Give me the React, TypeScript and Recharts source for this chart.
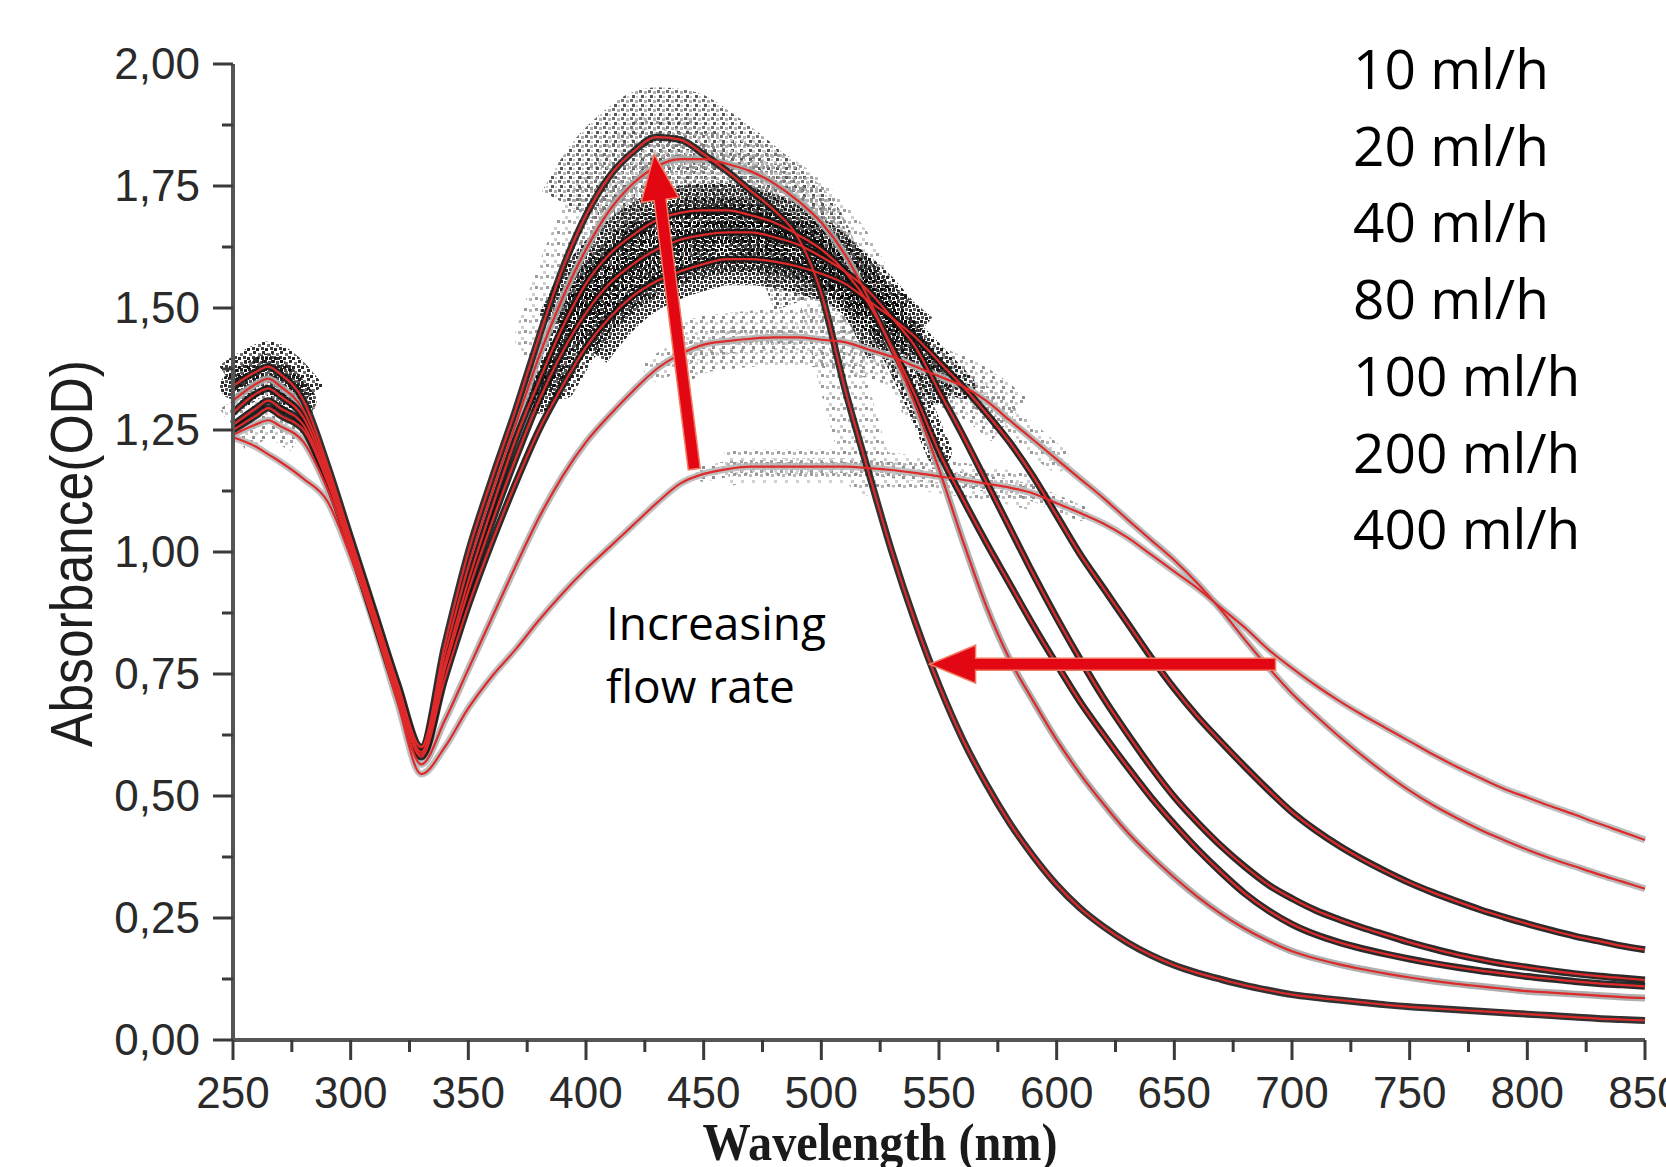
import React from 'react';
import { LineChart, Line, XAxis, YAxis, ReferenceLine } from 'recharts';

// Wavelength (nm) sample grid
const wavelengths = [
  250, 260, 265, 270, 280, 290, 300, 310, 320, 330, 340,
  350, 360, 370, 380, 390, 400, 410, 420, 430, 440,
  450, 460, 470, 480, 490, 500, 510, 520, 530, 540,
  550, 560, 570, 580, 590, 600, 610, 620, 630, 640,
  650, 660, 670, 680, 690, 700, 710, 720, 730, 740,
  750, 760, 770, 780, 790, 800, 810, 820, 830, 840,
  850,
];

// Absorbance (OD) for each flow rate
const abs10 = [
  1.235, 1.215, 1.20, 1.185, 1.15, 1.105, 0.99, 0.85, 0.69, 0.545, 0.60,
  0.68, 0.745, 0.80, 0.86, 0.915, 0.965, 1.01, 1.055, 1.10, 1.14,
  1.16, 1.17, 1.175, 1.175, 1.175, 1.175, 1.175, 1.172, 1.168, 1.162,
  1.155, 1.148, 1.14, 1.132, 1.12, 1.10, 1.08, 1.058, 1.03, 0.995,
  0.96, 0.925, 0.885, 0.845, 0.80, 0.762, 0.727, 0.695, 0.666, 0.639,
  0.612, 0.585, 0.56, 0.537, 0.515, 0.497, 0.479, 0.462, 0.444, 0.427,
  0.41,
];
const abs20 = [
  1.24, 1.262, 1.27, 1.258, 1.225, 1.13, 1.0, 0.855, 0.70, 0.565, 0.655,
  0.76, 0.865, 0.97, 1.07, 1.155, 1.225, 1.28, 1.33, 1.375, 1.405,
  1.425, 1.432, 1.437, 1.44, 1.44, 1.435, 1.43, 1.415, 1.40, 1.38,
  1.36, 1.34, 1.31, 1.27, 1.23, 1.19, 1.15, 1.11, 1.067, 1.025,
  0.983, 0.935, 0.88, 0.82, 0.763, 0.71, 0.665, 0.622, 0.582, 0.545,
  0.511, 0.481, 0.455, 0.431, 0.41, 0.39, 0.372, 0.356, 0.34, 0.325,
  0.31,
];
const abs40 = [
  1.25, 1.28, 1.295, 1.28, 1.25, 1.145, 1.01, 0.86, 0.71, 0.58, 0.74,
  0.89, 1.02, 1.14, 1.25, 1.34, 1.42, 1.48, 1.525, 1.555, 1.575,
  1.59, 1.60, 1.60, 1.595, 1.585, 1.57, 1.55, 1.515, 1.48, 1.44,
  1.39, 1.34, 1.285, 1.225, 1.155, 1.075, 0.995, 0.925, 0.855, 0.785,
  0.72, 0.662, 0.61, 0.56, 0.512, 0.467, 0.43, 0.398, 0.37, 0.345,
  0.322, 0.302, 0.284, 0.267, 0.252, 0.238, 0.225, 0.213, 0.203, 0.193,
  0.185,
];
const abs80 = [
  1.26, 1.295, 1.31, 1.295, 1.26, 1.15, 1.01, 0.865, 0.715, 0.585, 0.76,
  0.92, 1.06, 1.19, 1.31, 1.41, 1.49, 1.55, 1.59, 1.62, 1.64,
  1.65, 1.655, 1.655, 1.645, 1.63, 1.605, 1.575, 1.535, 1.48, 1.42,
  1.33, 1.24, 1.145, 1.05, 0.955, 0.865, 0.78, 0.70, 0.628, 0.56,
  0.498, 0.445, 0.397, 0.355, 0.318, 0.29, 0.266, 0.247, 0.23, 0.215,
  0.20, 0.187, 0.175, 0.165, 0.156, 0.149, 0.142, 0.136, 0.131, 0.127,
  0.123,
];
const abs100 = [
  1.285, 1.325, 1.335, 1.32, 1.275, 1.16, 1.02, 0.87, 0.72, 0.59, 0.77,
  0.94, 1.09, 1.23, 1.35, 1.46, 1.55, 1.61, 1.65, 1.68, 1.695,
  1.70, 1.70, 1.69, 1.675, 1.65, 1.62, 1.575, 1.51, 1.42, 1.32,
  1.205, 1.11, 1.02, 0.935, 0.85, 0.77, 0.693, 0.625, 0.56, 0.498,
  0.442, 0.39, 0.343, 0.30, 0.265, 0.237, 0.216, 0.20, 0.187, 0.176,
  0.166, 0.157, 0.149, 0.142, 0.136, 0.13, 0.125, 0.12, 0.116, 0.113,
  0.11,
];
const abs200 = [
  1.31, 1.345, 1.355, 1.34, 1.29, 1.17, 1.02, 0.875, 0.725, 0.60, 0.79,
  0.97, 1.12, 1.26, 1.40, 1.52, 1.62, 1.70, 1.755, 1.79, 1.805,
  1.805, 1.795, 1.78, 1.755, 1.72, 1.675, 1.61, 1.52, 1.415, 1.30,
  1.17, 1.025, 0.89, 0.78, 0.695, 0.615, 0.545, 0.483, 0.426, 0.377,
  0.333, 0.293, 0.258, 0.228, 0.203, 0.182, 0.167, 0.155, 0.145, 0.136,
  0.128, 0.121, 0.115, 0.11, 0.105, 0.10, 0.097, 0.094, 0.091, 0.088,
  0.086,
];
const abs400 = [
  1.34, 1.37, 1.38, 1.365, 1.31, 1.18, 1.03, 0.88, 0.73, 0.60, 0.81,
  1.0, 1.15, 1.29, 1.44, 1.58, 1.69, 1.77, 1.82, 1.85, 1.845,
  1.815, 1.78, 1.74, 1.70, 1.645, 1.53, 1.335, 1.165, 1.0, 0.855,
  0.727, 0.617, 0.525, 0.445, 0.377, 0.318, 0.27, 0.232, 0.20, 0.174,
  0.153, 0.137, 0.124, 0.112, 0.102, 0.093, 0.087, 0.082, 0.077, 0.072,
  0.068, 0.065, 0.062, 0.059, 0.056, 0.053, 0.05, 0.047, 0.044, 0.042,
  0.04,
];

const flowLabels = ['10 ml/h', '20 ml/h', '40 ml/h', '80 ml/h', '100 ml/h', '200 ml/h', '400 ml/h'];

const xTicks = [250, 275, 300, 325, 350, 375, 400, 425, 450, 475, 500, 525, 550, 575, 600, 625, 650, 675, 700, 725, 750, 775, 800, 825, 850];
const yTicks = [0, 0.125, 0.25, 0.375, 0.5, 0.625, 0.75, 0.875, 1, 1.125, 1.25, 1.375, 1.5, 1.625, 1.75, 1.875, 2];

// Annotation arrows (data coordinates: [tail, tip])
const upArrow = [{ x: 446, y: 1.17 }, { x: 429, y: 1.815 }];
const leftArrow = [{ x: 693, y: 0.77 }, { x: 546, y: 0.77 }];

// Measured-data series (underlay band) and fit (red line)
const series = [
  { key: 'f10', values: abs10, band: '#b9b9b9' },
  { key: 'f20', values: abs20, band: '#b3b3b3' },
  { key: 'f200', values: abs200, band: '#a6a6a6' },
  { key: 'f40', values: abs40, band: '#141414' },
  { key: 'f80', values: abs80, band: '#141414' },
  { key: 'f100', values: abs100, band: '#141414' },
  { key: 'f400', values: abs400, band: '#1c1c1c' },
];

// Wavelength windows where the measured points scatter widely.
// Each spread is drawn as a speckled halo: a wide core window and a thinner, longer fringe.
const scatter = [
  { key: 's400b', values: abs400, from: 380, to: 525, fill: 'url(#spkGrayB)', width: 48, cap: 'round' },
  { key: 's400a', values: abs400, from: 395, to: 505, fill: 'url(#spkMid)', width: 100, cap: 'butt' },
  { key: 's200b', values: abs200, from: 390, to: 540, fill: 'url(#spkGrayA)', width: 30, cap: 'round' },
  { key: 's200a', values: abs200, from: 405, to: 525, fill: 'url(#spkGrayB)', width: 62, cap: 'butt' },
  { key: 's20b', values: abs20, from: 425, to: 605, fill: 'url(#spkGrayB)', width: 26, cap: 'round' },
  { key: 's20a', values: abs20, from: 440, to: 580, fill: 'url(#spkGrayA)', width: 56, cap: 'butt' },
  { key: 's10b', values: abs10, from: 450, to: 615, fill: 'url(#spkGrayA)', width: 16, cap: 'round' },
  { key: 's10a', values: abs10, from: 460, to: 590, fill: 'url(#spkGrayB)', width: 34, cap: 'butt' },
  { key: 's100b', values: abs100, from: 375, to: 550, fill: 'url(#spkDarkB)', width: 26, cap: 'round' },
  { key: 's100a', values: abs100, from: 390, to: 530, fill: 'url(#spkDarkA)', width: 54, cap: 'butt' },
  { key: 's80b', values: abs80, from: 380, to: 555, fill: 'url(#spkDarkA)', width: 26, cap: 'round' },
  { key: 's80a', values: abs80, from: 395, to: 535, fill: 'url(#spkDarkB)', width: 54, cap: 'butt' },
  { key: 's40b', values: abs40, from: 385, to: 565, fill: 'url(#spkDarkB)', width: 26, cap: 'round' },
  { key: 's40a', values: abs40, from: 400, to: 545, fill: 'url(#spkDarkA)', width: 52, cap: 'butt' },
  { key: 'sL1b', values: abs400, from: 250, to: 288, fill: 'url(#spkDarkA)', width: 26, cap: 'round' },
  { key: 'sL1a', values: abs400, from: 250, to: 280, fill: 'url(#spkDarkB)', width: 50, cap: 'butt' },
  { key: 'sL2', values: abs40, from: 250, to: 280, fill: 'url(#spkGrayA)', width: 50, cap: 'butt' },
];

const data = wavelengths.map((wl, i) => {
  const row: Record<string, number | null> = { wl };
  series.forEach((s) => {
    row[s.key] = s.values[i];
  });
  scatter.forEach((s) => {
    row[s.key] = wl >= s.from && wl <= s.to ? s.values[i] : null;
  });
  return row;
});

const AXIS_FONT = "'Liberation Sans', Arial, sans-serif";
const TEXT_FONT = "'Open Sans', 'Noto Sans', sans-serif";

const XTick = (props: any) => {
  const { x, y, payload } = props;
  const v = payload.value as number;
  const major = v % 50 === 0;
  return (
    <g>
      <line x1={x} y1={y} x2={x} y2={y + (major ? 20 : 12)} stroke="#3a3a3a" strokeWidth={3} />
      {major && (
        <text x={x} y={y + 68} textAnchor="middle" fontFamily={AXIS_FONT} fontSize={44} fill="#2a2a2a">
          {v}
        </text>
      )}
    </g>
  );
};

const YTick = (props: any) => {
  const { x, y, payload } = props;
  const v = payload.value as number;
  const major = Math.abs(v * 4 - Math.round(v * 4)) < 1e-6;
  return (
    <g>
      <line x1={x - (major ? 20 : 11)} y1={y} x2={x} y2={y} stroke="#3a3a3a" strokeWidth={3} />
      {major && (
        <text x={x - 33} y={y + 15} textAnchor="end" fontFamily={AXIS_FONT} fontSize={44} fill="#2a2a2a">
          {v.toFixed(2).replace('.', ',')}
        </text>
      )}
    </g>
  );
};

const arrowShape = (props: any) => {
  const { x1, y1, x2, y2 } = props;
  const dx = x2 - x1;
  const dy = y2 - y1;
  const len = Math.hypot(dx, dy) || 1;
  const ux = dx / len;
  const uy = dy / len;
  const nx = -uy;
  const ny = ux;
  const shaft = 12;
  const headW = 38;
  const headL = 46;
  const bx = x2 - ux * headL;
  const by = y2 - uy * headL;
  const pts = [
    [x1 + (nx * shaft) / 2, y1 + (ny * shaft) / 2],
    [bx + (nx * shaft) / 2, by + (ny * shaft) / 2],
    [bx + (nx * headW) / 2, by + (ny * headW) / 2],
    [x2, y2],
    [bx - (nx * headW) / 2, by - (ny * headW) / 2],
    [bx - (nx * shaft) / 2, by - (ny * shaft) / 2],
    [x1 - (nx * shaft) / 2, y1 - (ny * shaft) / 2],
  ];
  return (
    <polygon
      points={pts.map((p) => `${p[0]},${p[1]}`).join(' ')}
      fill="#e30613"
      stroke="#f07a62"
      strokeWidth={1.5}
    />
  );
};

const SpeckleDefs = () => (
  <svg width={0} height={0} style={{ position: 'absolute' }} aria-hidden="true">
    <defs>
      <pattern id="spkDarkA" width={8} height={8} patternUnits="userSpaceOnUse">
        <rect x={0} y={0} width={3} height={3} fill="#000" />
        <rect x={4} y={1} width={3} height={3} fill="#2a2a2a" />
        <rect x={1} y={4} width={3} height={3} fill="#3c3c3c" />
        <rect x={5} y={5} width={3} height={3} fill="#050505" />
      </pattern>
      <pattern id="spkDarkB" width={9} height={9} patternUnits="userSpaceOnUse">
        <rect x={1} y={0} width={3} height={3} fill="#0a0a0a" />
        <rect x={6} y={2} width={3} height={3} fill="#555" />
        <rect x={0} y={5} width={3} height={3} fill="#1a1a1a" />
        <rect x={4} y={6} width={3} height={3} fill="#000" />
      </pattern>
      <pattern id="spkMid" width={9} height={9} patternUnits="userSpaceOnUse">
        <rect x={0} y={0} width={3} height={3} fill="#5a5a5a" />
        <rect x={5} y={1} width={3} height={3} fill="#a0a0a0" />
        <rect x={2} y={5} width={3} height={3} fill="#3a3a3a" />
        <rect x={6} y={6} width={2} height={2} fill="#bcbcbc" />
      </pattern>
      <pattern id="spkGrayA" width={10} height={10} patternUnits="userSpaceOnUse">
        <rect x={0} y={0} width={3} height={3} fill="#8e8e8e" />
        <rect x={5} y={2} width={3} height={3} fill="#c4c4c4" />
        <rect x={2} y={6} width={3} height={3} fill="#7a7a7a" />
      </pattern>
      <pattern id="spkGrayB" width={11} height={11} patternUnits="userSpaceOnUse">
        <rect x={1} y={1} width={3} height={3} fill="#ababab" />
        <rect x={7} y={0} width={3} height={3} fill="#8a8a8a" />
        <rect x={4} y={7} width={3} height={3} fill="#c8c8c8" />
      </pattern>
    </defs>
  </svg>
);

export default function App() {
  return (
    <div style={{ position: 'absolute', left: 0, top: 0, width: 1666, height: 1167, background: '#fff' }}>
      <SpeckleDefs />
      <LineChart
        width={1666}
        height={1167}
        data={data}
        margin={{ top: 64, right: 21, bottom: 67, left: 133 }}
      >
        <XAxis
          dataKey="wl"
          type="number"
          domain={[250, 850]}
          ticks={xTicks}
          interval={0}
          tick={XTick}
          tickLine={false}
          tickSize={0}
          tickMargin={0}
          height={60}
          axisLine={{ stroke: '#555', strokeWidth: 4 }}
        />
        <YAxis
          type="number"
          domain={[0, 2]}
          ticks={yTicks}
          interval={0}
          tick={YTick}
          tickLine={false}
          tickSize={0}
          tickMargin={0}
          width={100}
          axisLine={{ stroke: '#555', strokeWidth: 4 }}
        />
        {scatter.map((s) => (
          <Line
            key={s.key}
            dataKey={s.key}
            type="monotone"
            stroke={s.fill}
            strokeWidth={s.width}
            strokeLinecap={s.cap as any}
            strokeOpacity={0.85}
            dot={false}
            activeDot={false}
            connectNulls={false}
            isAnimationActive={false}
          />
        ))}
        {series.map((s) => (
          <Line
            key={`band-${s.key}`}
            dataKey={s.key}
            type="monotone"
            stroke={s.band}
            strokeWidth={7}
            strokeOpacity={0.9}
            dot={false}
            activeDot={false}
            isAnimationActive={false}
          />
        ))}
        {series.map((s) => (
          <Line
            key={`fit-${s.key}`}
            dataKey={s.key}
            type="monotone"
            stroke="#de2a2a"
            strokeWidth={2.2}
            dot={false}
            activeDot={false}
            isAnimationActive={false}
          />
        ))}
        <ReferenceLine segment={upArrow} shape={arrowShape} ifOverflow="visible" />
        <ReferenceLine segment={leftArrow} shape={arrowShape} ifOverflow="visible" />
      </LineChart>
      <svg
        width={1666}
        height={1167}
        style={{ position: 'absolute', left: 0, top: 0, pointerEvents: 'none' }}
      >
        {flowLabels.map((label, i) => (
          <text key={label} x={1353} y={89 + i * 76.7} fontFamily={TEXT_FONT} fontSize={55} fill="#000">
            {label}
          </text>
        ))}
        <text x={606} y={640} fontFamily={TEXT_FONT} fontSize={46} fill="#000">
          Increasing
        </text>
        <text x={606} y={703} fontFamily={TEXT_FONT} fontSize={46} fill="#000">
          flow rate
        </text>
        <text
          transform="translate(91.5, 553.5) rotate(-90)"
          x={0}
          y={0}
          textAnchor="middle"
          fontFamily={AXIS_FONT}
          fontSize={60}
          textLength={387}
          lengthAdjust="spacingAndGlyphs"
          fill="#1e1e1e"
        >
          Absorbance(OD)
        </text>
        <text
          x={880}
          y={1160}
          textAnchor="middle"
          fontFamily="'Liberation Serif', 'Times New Roman', serif"
          fontWeight="bold"
          fontSize={52}
          textLength={355}
          lengthAdjust="spacingAndGlyphs"
          fill="#1a1a1a"
        >
          Wavelength (nm)
        </text>
      </svg>
    </div>
  );
}
